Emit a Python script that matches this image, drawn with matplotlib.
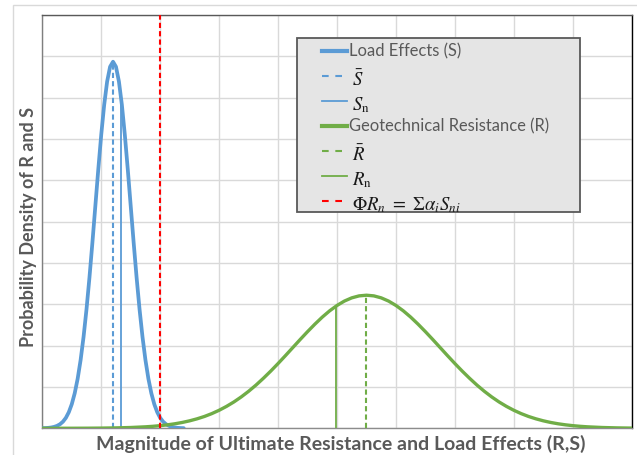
import matplotlib
matplotlib.use("Agg")
import matplotlib.pyplot as plt
from matplotlib.lines import Line2D
from matplotlib.patches import Rectangle

# ---------------- data ----------------
load_x = [0.00, 0.05, 0.10, 0.15, 0.20, 0.25, 0.30, 0.35, 0.40, 0.45, 0.50, 0.55,
          0.60, 0.65, 0.70, 0.75, 0.80, 0.85, 0.90, 0.95, 1.00, 1.05, 1.10, 1.15,
          1.20, 1.25, 1.30, 1.35, 1.40, 1.45, 1.50, 1.55, 1.60, 1.65, 1.70, 1.75,
          1.80, 1.85, 1.90, 1.95, 2.00, 2.05, 2.10, 2.15, 2.20, 2.25, 2.30, 2.35, 2.40]
load_y = [0.0030, 0.0057, 0.0107, 0.0194, 0.0343, 0.0589, 0.0986, 0.160, 0.253, 0.390,
          0.583, 0.848, 1.200, 1.652, 2.212, 2.880, 3.647, 4.491, 5.380, 6.268, 7.103,
          7.828, 8.391, 8.748, 8.870, 8.748, 8.391, 7.828, 7.103, 6.268, 5.380, 4.491,
          3.647, 2.880, 2.212, 1.652, 1.200, 0.848, 0.583, 0.390, 0.253, 0.160, 0.0986,
          0.0589, 0.0343, 0.0194, 0.0107, 0.0057, 0.0030]

res_x = [0.0, 0.5, 0.75, 1.0, 1.25, 1.5, 1.75, 1.875, 2.0, 2.125, 2.25, 2.375, 2.5,
         2.625, 2.75, 2.875, 3.0, 3.125, 3.25, 3.375, 3.5, 3.625, 3.75, 3.875, 4.0,
         4.125, 4.25, 4.375, 4.5, 4.625, 4.75, 4.875, 5.0, 5.125, 5.25, 5.375, 5.5,
         5.625, 5.75, 5.875, 6.0, 6.125, 6.25, 6.375, 6.5, 6.625, 6.75, 6.875, 7.0,
         7.125, 7.25, 7.375, 7.5, 7.625, 7.75, 7.875, 8.0, 8.125, 8.25, 8.375, 8.5,
         8.625, 8.75, 8.875, 9.0, 9.125, 9.25, 9.5, 9.75, 10.0]
res_y = [0.0002, 0.0011, 0.0024, 0.0049, 0.0100, 0.0193, 0.0358, 0.0480, 0.0639, 0.0841,
         0.1096, 0.1415, 0.181, 0.229, 0.286, 0.355, 0.436, 0.530, 0.637, 0.759, 0.895,
         1.045, 1.209, 1.383, 1.567, 1.758, 1.953, 2.148, 2.338, 2.520, 2.690, 2.842,
         2.972, 3.078, 3.156, 3.204, 3.220, 3.204, 3.156, 3.078, 2.972, 2.842, 2.690,
         2.520, 2.338, 2.148, 1.953, 1.758, 1.567, 1.383, 1.209, 1.045, 0.895, 0.759,
         0.637, 0.530, 0.436, 0.355, 0.286, 0.229, 0.181, 0.1415, 0.1096, 0.0841,
         0.0639, 0.0480, 0.0358, 0.0193, 0.0100, 0.0049]

s_mean, s_mean_h = 1.20, 8.87
s_nom, s_nom_h = 1.33, 8.07
r_mean, r_mean_h = 5.50, 3.22
r_nom, r_nom_h = 4.98, 2.95
design_x = 2.0

legend_labels = ["Load Effects (S)", r"$\bar{S}$", r"$S_\mathrm{n}$",
                 "Geotechnical Resistance (R)", r"$\bar{R}$", r"$R_\mathrm{n}$",
                 r"$\Phi R_n\ =\ \Sigma\alpha_i S_{ni}$"]
xlabel = "Magnitude of Ultimate Resistance and Load Effects (R,S)"
ylabel = "Probability Density of R and S"

# ---------------- style ----------------
plt.rcParams['font.family'] = ['Lato', 'DejaVu Sans']
plt.rcParams['mathtext.fontset'] = 'stix'
BLUE = '#5B9BD5'
GREEN = '#70AD47'
RED = '#FF0000'
TXT = '#595959'

fig = plt.figure(figsize=(6.37, 4.56), dpi=100)
W, H = 637, 456


def fx(px):
    return px / W


def fy(py):
    return 1 - py / H


# chart-area border (light gray)
fig.patches.append(Rectangle((fx(13), -0.1), 1.2, fy(6) + 0.1, transform=fig.transFigure,
                             fill=False, edgecolor='#D9D9D9', linewidth=1.0))

ax = fig.add_axes([fx(42.3), fy(429.3), (631.7 - 42.3) / W, (429.3 - 16) / H])
ax.set_xlim(0, 10)
ax.set_ylim(0, 10)
ax.set_xticks(range(0, 11))
ax.set_yticks(range(0, 11))
ax.tick_params(length=0, labelbottom=False, labelleft=False)
ax.grid(True, color='#D9D9D9', linewidth=1.0)
ax.set_axisbelow(True)
for side, col in [('left', '#7F7F7F'), ('top', '#595959'), ('right', '#000000'), ('bottom', '#8C8C8C')]:
    ax.spines[side].set_color(col)
    ax.spines[side].set_linewidth(1.0)

dash = (2.5, 1.5)
ax.plot(load_x, load_y, color=BLUE, lw=2.7, solid_capstyle='round', solid_joinstyle='round', zorder=3)
ax.plot(res_x, res_y, color=GREEN, lw=2.4, solid_capstyle='round', solid_joinstyle='round', zorder=4)
ax.plot([s_mean, s_mean], [0, s_mean_h], color=BLUE, lw=1.5, dashes=dash, zorder=3)
ax.plot([s_nom, s_nom], [0, s_nom_h], color=BLUE, lw=1.3, zorder=3)
ax.plot([r_mean, r_mean], [0, r_mean_h], color=GREEN, lw=1.5, dashes=dash, zorder=3)
ax.plot([r_nom, r_nom], [0, r_nom_h], color=GREEN, lw=1.3, zorder=3)
ax.plot([design_x, design_x], [0, 10], color=RED, lw=1.5, dashes=dash, zorder=5)

# ---------------- legend (frame, handles and labels) ----------------
ax.add_patch(Rectangle((fx(296.7), fy(213.3)), (580 - 296.7) / W, (213.3 - 39.3) / H,
                       transform=fig.transFigure, clip_on=False, facecolor='#E5E5E5',
                       edgecolor='#595959', linewidth=1.3, zorder=9))
ldash = (3.2, 3.2)
handle_styles = [
    dict(color=BLUE, lw=3),
    dict(color=BLUE, lw=1.5, dashes=ldash),
    dict(color=BLUE, lw=1.3),
    dict(color=GREEN, lw=3),
    dict(color=GREEN, lw=1.5, dashes=ldash),
    dict(color=GREEN, lw=1.3),
    dict(color=RED, lw=1.5, dashes=ldash),
]
for i, (lab, st) in enumerate(zip(legend_labels, handle_styles)):
    yrow = 51.7 + 25 * i
    fig.add_artist(Line2D([fx(321.7), fx(346.7)], [fy(yrow), fy(yrow)],
                          transform=fig.transFigure, zorder=10, **st))
    if lab.startswith('$'):
        fig.text(fx(352.5), fy(yrow + 1), lab, ha='left', va='center_baseline', fontsize=13.5,
                 color='#1A1A1A', zorder=10)
    else:
        fig.text(fx(349), fy(yrow), lab, ha='left', va='center', fontsize=11.9,
                 color=TXT, zorder=10)

fig.text(fx(341), fy(444), xlabel, ha='center', va='center', fontsize=14,
         fontweight='bold', color=TXT)
fig.text(fx(29), fy(226.5), ylabel, ha='center', va='center', rotation=90,
         fontsize=13, fontweight='bold', color=TXT)

fig.savefig('out.png', dpi=100)
